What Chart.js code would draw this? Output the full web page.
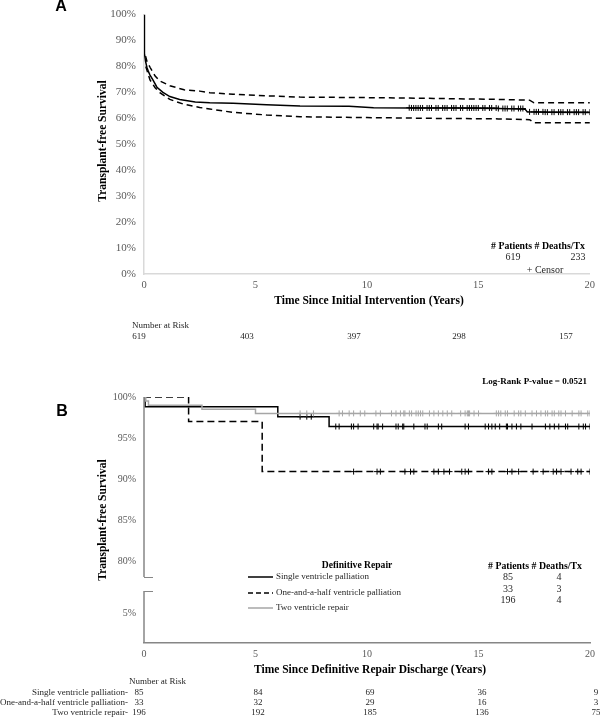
<!DOCTYPE html>
<html><head><meta charset="utf-8">
<script src="https://cdn.jsdelivr.net/npm/chart.js@4/dist/chart.umd.min.js"></script>
<style>
html,body{margin:0;padding:0;background:#fff;width:600px;height:717px;overflow:hidden}
canvas{position:absolute;left:0}
#a{top:0;width:600px;height:345px}
#b{top:345px;width:600px;height:372px}
</style></head><body>
<canvas id="a" width="600" height="345"></canvas>
<canvas id="b" width="600" height="372"></canvas>
<script>
// ---------- Panel A data ----------
const timeA = [0, 0.01, 0.03, 0.07, 0.13, 0.2, 0.27, 0.4, 0.58, 0.85, 1.16, 1.6, 2.3, 2.95, 4.0, 5.5, 7.0, 9.2, 10.3, 12.0, 14.0, 15.9, 17.1, 17.2, 18.0, 20.1];
const survA = [100, 90, 85, 82, 79.7, 78, 76.7, 74.8, 72, 70, 68.4, 67.3, 66.3, 66.0, 65.8, 65.2, 64.8, 64.7, 64.1, 64.0, 64.0, 63.8, 63.5, 62.5, 62.4, 62.3];
const upperTimeA = [0.07, 0.13, 0.27, 0.5, 0.71, 1.16, 1.8, 2.5, 2.95, 4.0, 5.5, 7.0, 10.0, 13.0, 15.9, 17.3, 17.5, 20.1];
const upperA = [84, 82, 79.7, 76.3, 74.4, 72.6, 71.0, 70.5, 69.9, 69.3, 68.7, 68.2, 68.0, 67.7, 67.3, 67.0, 66.0, 66.0];
const lowerTimeA = [0.08, 0.13, 0.27, 0.5, 0.71, 1.16, 1.8, 2.5, 2.95, 4.0, 5.5, 7.0, 10.0, 13.0, 15.9, 17.3, 17.5, 20.1];
const lowerA = [80, 78.6, 74.8, 71.8, 69.9, 67.3, 65.4, 64.2, 63.6, 62.3, 61.3, 60.6, 60.3, 60.0, 59.8, 59.5, 58.3, 58.3];
const censorTimesA = [11.9, 12.0, 12.1, 12.2, 12.3, 12.4, 12.5, 12.7, 12.8, 12.9, 13.1, 13.2, 13.4, 13.5, 13.6, 13.8, 13.9, 14.0, 14.2, 14.3, 14.5, 14.6, 14.7, 14.8, 14.9, 15.0, 15.2, 15.3, 15.5, 15.6, 15.8, 15.9, 16.1, 16.2, 16.3, 16.5, 16.6, 16.8, 16.9, 17.0, 17.3, 17.5, 17.6, 17.7, 17.9, 18.0, 18.1, 18.3, 18.4, 18.6, 18.7, 18.8, 19.0, 19.1, 19.3, 19.4, 19.5, 19.7, 19.8, 20.0];
const yTicksA = [0, 10, 20, 30, 40, 50, 60, 70, 80, 90, 100];
const xTicksA = [0, 5, 10, 15, 20];
const riskA = [619, 403, 397, 298, 157];
const patientsA = 619, deathsA = 233;

// ---------- Panel B data ----------
const groupsB = ["Single ventricle palliation", "One-and-a-half ventricle palliation", "Two ventricle repair"];
const singleTime = [0, 0.05, 6.0, 8.3, 20.1];
const singleSurv = [100, 98.8, 97.6, 96.4, 96.4];
const oneHalfTime = [0, 2.0, 5.3, 20.1];
const oneHalfSurv = [100, 97.0, 90.9, 90.9];
const twoTime = [0, 0.08, 0.2, 2.6, 5.0, 20.1];
const twoSurv = [100, 99.5, 99.0, 98.5, 98.0, 98.0];
const singleCensor = [7.0, 7.3, 7.5, 8.6, 8.75, 9.3, 9.4, 9.6, 10.3, 10.45, 10.5, 10.7, 11.3, 11.4, 11.6, 11.65, 12.1, 12.6, 12.7, 13.2, 13.35, 14.4, 14.55, 15.3, 15.45, 15.6, 15.75, 15.95, 16.25, 16.3, 16.5, 16.7, 16.9, 17.4, 18.0, 18.2, 18.4, 18.6, 18.9, 19.0, 19.5, 19.7, 19.8, 20.0];
const oneHalfCensor = [9.4, 10.45, 10.6, 11.7, 11.95, 12.1, 13.0, 13.2, 13.45, 13.7, 14.25, 14.4, 14.55, 15.45, 15.6, 16.3, 16.5, 16.8, 17.45, 17.9, 18.35, 18.5, 18.7, 19.15, 19.45, 19.6, 20.0];
const twoCensor = [7.0, 7.3, 7.6, 8.75, 8.9, 9.2, 9.4, 9.7, 9.9, 10.4, 10.6, 11.1, 11.3, 11.5, 11.65, 11.7, 11.9, 12.0, 12.2, 12.3, 12.4, 12.5, 12.8, 13.0, 13.2, 13.4, 13.6, 13.8, 14.2, 14.4, 14.5, 14.55, 14.6, 14.8, 15.0, 15.8, 15.9, 16.0, 16.2, 16.3, 16.6, 16.8, 16.9, 17.1, 17.4, 17.6, 17.8, 18.0, 18.1, 18.3, 18.4, 18.6, 18.7, 18.9, 19.2, 19.5, 19.6, 19.9, 20.0];
const yTickValsB = [73.66, 80, 85, 90, 95, 100];
const yTickLabelsB = ["5%", "80%", "85%", "90%", "95%", "100%"];
const axisBreakB = [76.34, 78.05];
const xTicksB = [0, 5, 10, 15, 20];
const patientsB = [85, 33, 196];
const deathsB = [4, 3, 4];
const riskB = [[85, 84, 69, 36, 9], [33, 32, 29, 16, 3], [196, 192, 185, 136, 75]];
const pValue = "0.0521";

// ---------- helpers ----------
const SERIF = "'Liberation Serif','Times New Roman',serif";
const SANS = "'Liberation Sans',Arial,sans-serif";
function pts(xs, ys) { return xs.map((x, i) => ({ x: x, y: ys[i] })); }
function stepAt(xs, ys, t) { let v = ys[0]; for (let i = 0; i < xs.length; i++) { if (xs[i] <= t) v = ys[i]; } return v; }
function censorPts(times, xs, ys) { return times.map(t => ({ x: t, y: stepAt(xs, ys, t) })); }
function txt(ctx, s, x, y, size, o) {
  o = o || {};
  ctx.save();
  ctx.font = (o.bold ? 'bold ' : '') + size + 'px ' + (o.family || SERIF);
  ctx.fillStyle = o.color || '#000';
  ctx.textAlign = o.align || 'center';
  ctx.textBaseline = 'middle';
  if (o.rot) { ctx.translate(x, y); ctx.rotate(-Math.PI / 2); ctx.fillText(s, 0, 0); }
  else ctx.fillText(s, x, y);
  ctx.restore();
}
function hline(ctx, x1, x2, y, color, width, dash) {
  ctx.save(); ctx.strokeStyle = color; ctx.lineWidth = width; ctx.setLineDash(dash || []);
  ctx.beginPath(); ctx.moveTo(x1, y); ctx.lineTo(x2, y); ctx.stroke(); ctx.restore();
}

Chart.defaults.animation = false;
Chart.defaults.font.family = SERIF;

// ---------- Chart A ----------
const annotA = {
  id: 'annotA',
  afterDraw(chart) {
    const ctx = chart.ctx;
    txt(ctx, 'A', 61, 7, 16, { bold: true, family: SANS });
    txt(ctx, 'Transplant-free Survival', 103, 141, 11.5, { bold: true, rot: true });
    txt(ctx, 'Time Since Initial Intervention (Years)', 369, 301, 11.5, { bold: true });
    txt(ctx, 'Number at Risk', 132, 326, 9, { align: 'left', color: '#262626' });
    const rx = [139, 247, 354, 459, 566];
    riskA.forEach((v, i) => txt(ctx, String(v), rx[i], 337, 9, { color: '#262626' }));
    txt(ctx, '# Patients # Deaths/Tx', 538, 246, 9.8, { bold: true });
    txt(ctx, String(patientsA), 513, 257, 10, { color: '#262626' });
    txt(ctx, String(deathsA), 578, 257, 10, { color: '#262626' });
    txt(ctx, '+ Censor', 545, 270, 10, { color: '#262626' });
  }
};

new Chart(document.getElementById('a'), {
  type: 'line',
  data: {
    datasets: [
      { data: pts(timeA, survA), borderColor: '#000', borderWidth: 1.5, pointRadius: 0, tension: 0 },
      { data: pts(upperTimeA, upperA), borderColor: '#000', borderWidth: 1.5, borderDash: [6, 4], pointRadius: 0, tension: 0 },
      { data: pts(lowerTimeA, lowerA), borderColor: '#000', borderWidth: 1.5, borderDash: [6, 4], pointRadius: 0, tension: 0 },
      { data: censorPts(censorTimesA, timeA, survA), showLine: false, pointStyle: 'cross', pointRadius: 3, borderColor: '#000', borderWidth: 1 }
    ]
  },
  options: {
    responsive: false,
    layout: { padding: { top: 8, right: 8, left: 0, bottom: 0 } },
    plugins: { legend: { display: false }, tooltip: { enabled: false } },
    scales: {
      x: {
        type: 'linear', min: 0, max: 20,
        afterBuildTicks: s => { s.ticks = xTicksA.map(v => ({ value: v })); },
        afterFit: s => { s.height = 71; },
        grid: { display: false, drawTicks: false },
        border: { color: '#d9d9d9', width: 1.5 },
        ticks: { color: '#595959', font: { size: 10.5 }, padding: 5, autoSkip: false, maxRotation: 0 }
      },
      y: {
        type: 'linear', min: 0, max: 100,
        afterBuildTicks: s => { s.ticks = yTicksA.map(v => ({ value: v })); },
        afterFit: s => { s.width = 144; },
        grid: { display: false, drawTicks: false },
        border: { color: '#d9d9d9', width: 1.5 },
        ticks: { color: '#595959', font: { size: 11 }, padding: 8, autoSkip: false, callback: v => v + '%' }
      }
    }
  },
  plugins: [annotA]
});

// ---------- Chart B ----------
const annotB = {
  id: 'annotB',
  afterDraw(chart) {
    const ctx = chart.ctx;
    const ys = chart.scales.y, ca = chart.chartArea;
    const axisColor = '#868686';
    // broken y axis
    const yTop = ys.getPixelForValue(100), yBrkHi = ys.getPixelForValue(axisBreakB[1]), yBrkLo = ys.getPixelForValue(axisBreakB[0]);
    ctx.save(); ctx.strokeStyle = axisColor; ctx.lineWidth = 1.5;
    ctx.beginPath(); ctx.moveTo(ca.left, yTop); ctx.lineTo(ca.left, yBrkHi);
    ctx.moveTo(ca.left, yBrkLo); ctx.lineTo(ca.left, ca.bottom); ctx.stroke();
    ctx.lineWidth = 1;
    ctx.beginPath(); ctx.moveTo(ca.left, Math.round(yBrkHi) + 0.5); ctx.lineTo(ca.left + 9, Math.round(yBrkHi) + 0.5);
    ctx.moveTo(ca.left, Math.round(yBrkLo) + 0.5); ctx.lineTo(ca.left + 9, Math.round(yBrkLo) + 0.5); ctx.stroke();
    ctx.restore();

    txt(ctx, 'B', 62, 67, 16, { bold: true, family: SANS });
    txt(ctx, 'Transplant-free Survival', 103, 175, 11.5, { bold: true, rot: true });
    txt(ctx, 'Time Since Definitive Repair Discharge (Years)', 370, 325, 11.5, { bold: true });
    txt(ctx, 'Log-Rank P-value = ' + pValue, 587, 37, 9, { bold: true, align: 'right' });

    // legend
    txt(ctx, 'Definitive Repair', 357, 221, 9.6, { bold: true });
    txt(ctx, '# Patients # Deaths/Tx', 535, 221, 9.8, { bold: true });
    const ly = [232, 248, 263];
    const styles = [{ c: '#000', d: [] }, { c: '#000', d: [5, 3] }, { c: '#a6a6a6', d: [] }];
    groupsB.forEach((g, i) => {
      hline(ctx, 248, 273, ly[i], styles[i].c, 1.5, styles[i].d);
      txt(ctx, g, 276, ly[i], 9, { align: 'left', color: '#262626' });
    });
    const ny = [232, 244, 255];
    patientsB.forEach((v, i) => txt(ctx, String(v), 508, ny[i], 10, { color: '#262626' }));
    deathsB.forEach((v, i) => txt(ctx, String(v), 559, ny[i], 10, { color: '#262626' }));

    // number at risk
    txt(ctx, 'Number at Risk', 129, 337, 9, { align: 'left', color: '#262626' });
    const rx = [139, 258, 370, 482, 596];
    const ry = [348, 358, 368];
    groupsB.forEach((g, i) => {
      txt(ctx, g + '-', 128, ry[i], 9, { align: 'right', color: '#262626' });
      riskB[i].forEach((v, j) => txt(ctx, String(v), rx[j], ry[i], 9, { color: '#262626' }));
    });
  }
};

new Chart(document.getElementById('b'), {
  type: 'line',
  data: {
    datasets: [
      { data: pts(twoTime, twoSurv), stepped: 'before', borderColor: '#a6a6a6', borderWidth: 1.5, pointRadius: 0 },
      { data: censorPts(twoCensor, twoTime, twoSurv), showLine: false, pointStyle: 'cross', pointRadius: 3, borderColor: '#a6a6a6', borderWidth: 1 },
      { data: pts(oneHalfTime, oneHalfSurv), stepped: 'before', borderColor: '#000', borderWidth: 1.5, borderDash: [7, 4], pointRadius: 0 },
      { data: censorPts(oneHalfCensor, oneHalfTime, oneHalfSurv), showLine: false, pointStyle: 'cross', pointRadius: 3, borderColor: '#000', borderWidth: 1 },
      { data: pts(singleTime, singleSurv), stepped: 'before', borderColor: '#000', borderWidth: 1.5, pointRadius: 0 },
      { data: censorPts(singleCensor, singleTime, singleSurv), showLine: false, pointStyle: 'cross', pointRadius: 3, borderColor: '#000', borderWidth: 1 }
    ]
  },
  options: {
    responsive: false,
    layout: { padding: { top: 52, right: 8, left: 0, bottom: 0 } },
    plugins: { legend: { display: false }, tooltip: { enabled: false } },
    scales: {
      x: {
        type: 'linear', min: 0, max: 20,
        afterBuildTicks: s => { s.ticks = xTicksB.map(v => ({ value: v })); },
        afterFit: s => { s.height = 74; },
        grid: { display: false, drawTicks: false },
        border: { color: '#868686', width: 1.5 },
        ticks: { color: '#595959', font: { size: 10 }, padding: 5, autoSkip: false, maxRotation: 0 }
      },
      y: {
        type: 'linear', min: 70, max: 100,
        afterBuildTicks: s => { s.ticks = yTickValsB.map(v => ({ value: v })); },
        afterFit: s => { s.width = 144; },
        grid: { display: false, drawTicks: false },
        border: { display: false },
        ticks: { color: '#595959', font: { size: 10 }, padding: 8, autoSkip: false, callback: (v, i) => yTickLabelsB[i] }
      }
    }
  },
  plugins: [annotB]
});
</script>
</body></html>
